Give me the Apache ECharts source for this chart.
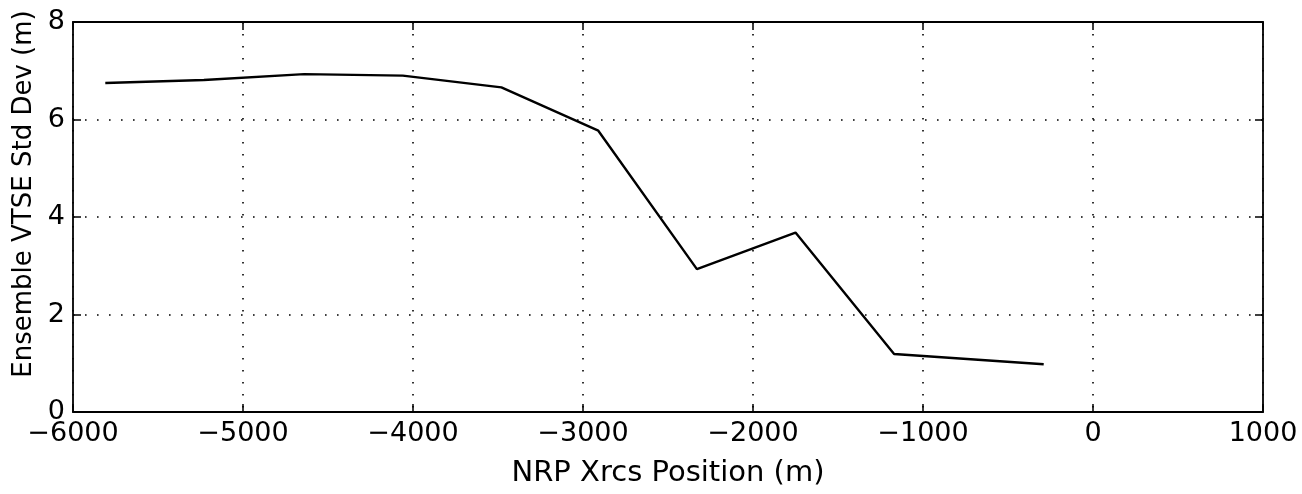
<!DOCTYPE html>
<html>
<head>
<meta charset="utf-8">
<script src="https://cdn.jsdelivr.net/npm/echarts@6/dist/echarts.min.js"></script>
<style>
  html, body { margin: 0; padding: 0; background: #fff; }
  #chart { width: 1302px; height: 494px; }
</style>
</head>
<body>
<div id="chart"></div>
<script>
// NRP Xrcs position (m) and ensemble VTSE std dev (m)
var xrcsPos = [-5810, -5230, -4640, -4060, -3480, -2910, -2330, -1750, -1170, -290];
var vtseStd = [6.75, 6.81, 6.93, 6.90, 6.66, 5.77, 2.93, 3.68, 1.19, 0.98];

var seriesData = [];
for (var i = 0; i < xrcsPos.length; i++) {
    seriesData.push([xrcsPos[i], vtseStd[i]]);
}

var fontName = 'DejaVu Sans';
var dotted = { color: '#000', width: 1.6, type: [1.6, 10.4] };

var myChart = echarts.init(document.getElementById('chart'));

var option = {
    backgroundColor: '#fff',
    animation: false,
    grid: {
        left: 73,
        right: 39,
        top: 22,
        bottom: 82
    },
    xAxis: [{
        type: 'value',
        position: 'bottom',
        min: -6000,
        max: 1000,
        interval: 1000,
        name: 'NRP Xrcs Position (m)',
        nameLocation: 'middle',
        nameGap: 47,
        nameTextStyle: { fontFamily: fontName, fontSize: 29, color: '#000' },
        axisLine: { onZero: false, lineStyle: { color: '#000', width: 1.8 } },
        axisTick: { inside: true, length: 8, lineStyle: { color: '#000', width: 1.5 } },
        axisLabel: {
            fontFamily: fontName, fontSize: 27, color: '#000', margin: 8,
            formatter: function (v) { return v < 0 ? '\u2212' + (-v) : '' + v; }
        },
        splitLine: { show: true, lineStyle: dotted }
    }, {
        type: 'value',
        position: 'top',
        min: -6000,
        max: 1000,
        interval: 1000,
        axisLine: { onZero: false, lineStyle: { color: '#000', width: 1.8 } },
        axisTick: { inside: true, length: 8, lineStyle: { color: '#000', width: 1.5 } },
        axisLabel: { show: false },
        splitLine: { show: false }
    }],
    yAxis: [{
        type: 'value',
        position: 'left',
        min: 0,
        max: 8,
        interval: 2,
        name: 'Ensemble VTSE Std Dev (m)',
        nameLocation: 'middle',
        nameGap: 34,
        nameTextStyle: { fontFamily: fontName, fontSize: 26, color: '#000', padding: [0, 0, 0, 46] },
        axisLine: { onZero: false, lineStyle: { color: '#000', width: 1.8 } },
        axisTick: { inside: true, length: 8, lineStyle: { color: '#000', width: 1.5 } },
        axisLabel: { fontFamily: fontName, fontSize: 27, color: '#000', margin: 8 },
        splitLine: { show: true, lineStyle: dotted }
    }, {
        type: 'value',
        position: 'right',
        min: 0,
        max: 8,
        interval: 2,
        axisLine: { onZero: false, lineStyle: { color: '#000', width: 1.8 } },
        axisTick: { inside: true, length: 8, lineStyle: { color: '#000', width: 1.5 } },
        axisLabel: { show: false },
        splitLine: { show: false }
    }],
    series: [{
        name: 'VTSE Std Dev',
        type: 'line',
        data: seriesData,
        showSymbol: false,
        symbol: 'none',
        lineStyle: { color: '#000', width: 2.4 }
    }]
};

myChart.setOption(option);
</script>
</body>
</html>
